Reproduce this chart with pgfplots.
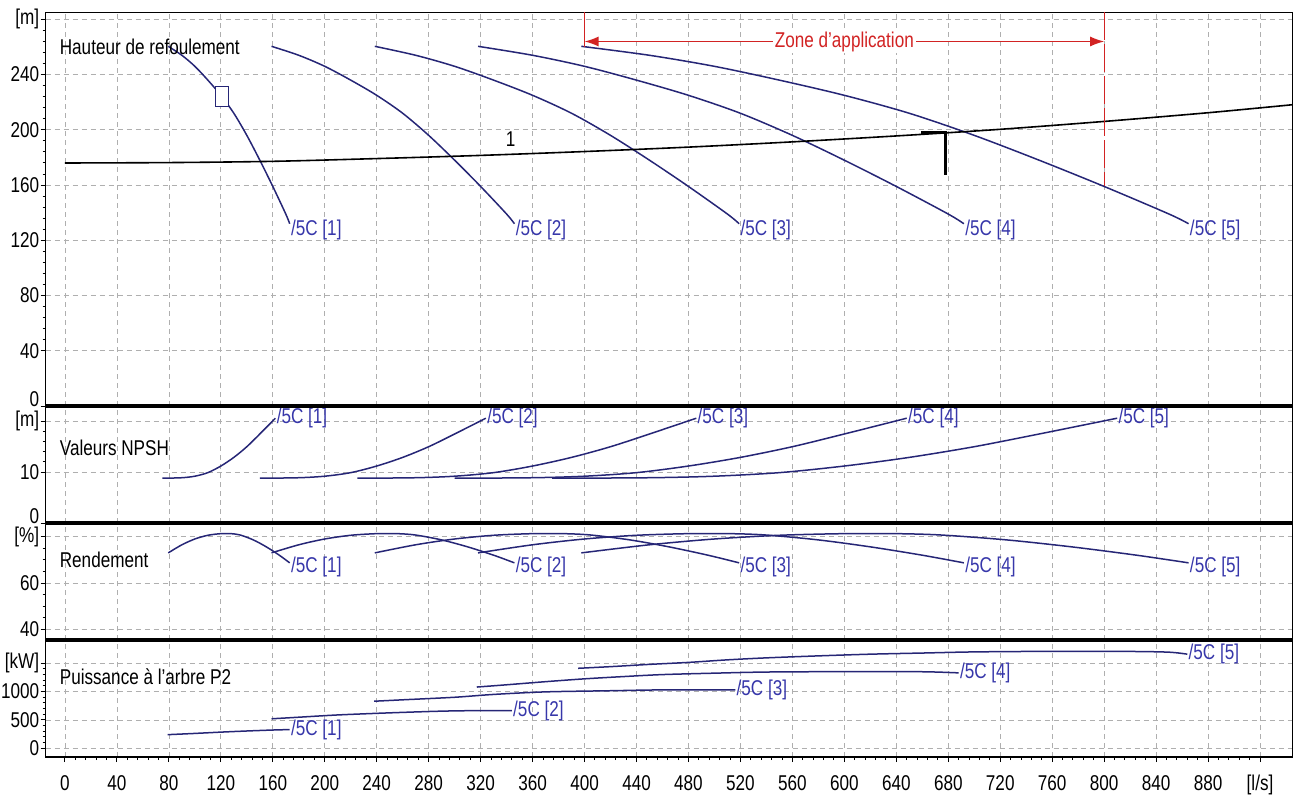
\documentclass[border=0pt]{standalone}
\usepackage{pgfplots}
\pgfplotsset{compat=1.18}
\usepackage{fontspec}
\setmainfont{Liberation Sans}[FakeStretch=0.8]
\usetikzlibrary{arrows.meta}
\definecolor{navy}{RGB}{38,38,118}
\definecolor{lbl}{RGB}{55,55,170}
\definecolor{gridc}{RGB}{175,175,175}
\definecolor{zred}{RGB}{210,35,35}
\tikzset{
  clabel/.style={anchor=west, inner sep=0.5pt, text=lbl},
  ptitle/.style={anchor=west, inner sep=0pt, text=black},
}
\pgfplotsset{
  panel/.style={
    scale only axis, width=623.5pt,
    anchor=south west,
    xmin=-15, xmax=945,
    xtick={0,40,...,920},
    grid=major,
    grid style={gridc, dash pattern=on 2.5pt off 2pt, line width=0.4pt},
    axis line style={black, line width=0.6pt},
    tick align=outside,
    ytick pos=left, xtick pos=bottom,
    major tick length=2.5pt, minor tick length=1.5pt,
    tick style={black, line width=0.5pt},
    yticklabel style={inner sep=0.5pt},
    every axis plot/.append style={line width=0.75pt, navy},
    clip=true,
  },
  toppanel/.style={panel, xticklabels={}, xtick style={draw=none}},
  zerolabel/.style={extra y ticks={0}, extra y tick labels={0},
    extra y tick style={grid=none, yticklabel style={yshift=3.5pt}}},
}
\begin{document}
\begin{tikzpicture}[font=\fontsize{10.7}{12}\selectfont]
\useasboundingbox (-22.75pt,-20.5pt) rectangle (626.75pt,378.5pt);
% ---------------- Panel 1: Hauteur de refoulement
\begin{axis}[toppanel, zerolabel, at={(0pt,175.5pt)}, height=196.75pt,
  ymin=0, ymax=285, ytick={40,80,...,280},
  yticklabels={40,80,120,160,200,240,[m]}, minor y tick num=4]
\addplot[smooth] coordinates {(79.5,260.5)(90,254)(100,246)(110,236)(120,225)(130,212)(140,196)(150,178)(160,159)(170,139)(173,132)};
\addplot[smooth] coordinates {(159,260.5)(180,254)(200,246)(220,236)(240,225)(260,212)(280,196)(300,178)(320,159)(340,139)(346,132)};
\addplot[smooth] coordinates {(238.5,260.5)(270,254)(300,246)(330,236)(360,225)(390,212)(420,196)(450,178)(480,159)(510,139)(519,132)};
\addplot[smooth] coordinates {(318,260.5)(360,254)(400,246)(440,236)(480,225)(520,212)(560,196)(600,178)(640,159)(680,139)(692,132)};
\addplot[smooth] coordinates {(397.5,260.5)(450,254)(500,246)(550,236)(600,225)(650,212)(700,196)(750,178)(800,159)(850,139)(865,132)};
% system curve
\addplot[black, smooth, line width=0.8pt] coordinates {(0,176)(80,176.3)(160,177.2)(240,179.2)(320,181.5)(400,184.3)(480,187.5)(560,191.3)(640,195.6)(720,200.4)(800,206.1)(880,212.4)(945,218.2)};
% operating point marker
\addplot[black, line width=1.5pt] coordinates {(659,197.8)(678,197.8)(678,167.5)};
% square marker
\addplot[navy, only marks, mark=square*, mark size=5pt, mark options={fill=white, xscale=0.65, line width=0.75pt}] coordinates {(121,224)};
% zone d'application
\addplot[zred, line width=0.6pt] coordinates {(400,285)(400,260)};
\addplot[zred, line width=0.6pt, dash pattern=on 14pt off 2pt] coordinates {(800,285)(800,159)};
\draw[zred, line width=0.6pt, {Latex[length=7pt,width=5pt]}-{Latex[length=7pt,width=5pt]}] (axis cs:400,264) -- (axis cs:800,264) node[midway, fill=white, inner sep=1pt, text=zred] {Zone d'application};
\node[black] at (axis cs:343,193) {1};
\node[ptitle] at (rel axis cs:0.0112,0.912) {Hauteur de refoulement};
\node[clabel, yshift=-3pt] at (axis cs:173,132) {/5C [1]};
\node[clabel, yshift=-3pt] at (axis cs:346,132) {/5C [2]};
\node[clabel, yshift=-3pt] at (axis cs:519,132) {/5C [3]};
\node[clabel, yshift=-3pt] at (axis cs:692,132) {/5C [4]};
\node[clabel, yshift=-3pt] at (axis cs:865,132) {/5C [5]};
\end{axis}
% ---------------- Panel 2: NPSH
\begin{axis}[toppanel, zerolabel, at={(0pt,117pt)}, height=58.5pt,
  ymin=0, ymax=23, ytick={10,20}, yticklabels={10,[m]}, minor y tick num=4]
\addplot[smooth] coordinates {(75,8.8)(90,8.9)(100,9.2)(110,9.9)(120,11.2)(130,12.9)(140,15.0)(150,17.5)(162,20.6)};
\addplot[smooth] coordinates {(150,8.8)(180,8.9)(200,9.2)(220,9.9)(240,11.2)(260,12.9)(280,15.0)(300,17.5)(324,20.6)};
\addplot[smooth] coordinates {(225,8.8)(270,8.9)(300,9.2)(330,9.9)(360,11.2)(390,12.9)(420,15.0)(450,17.5)(486,20.6)};
\addplot[smooth] coordinates {(300,8.8)(360,8.9)(400,9.2)(440,9.9)(480,11.2)(520,12.9)(560,15.0)(600,17.5)(648,20.6)};
\addplot[smooth] coordinates {(375,8.8)(450,8.9)(500,9.2)(550,9.9)(600,11.2)(650,12.9)(700,15.0)(750,17.5)(810,20.6)};
\node[ptitle] at (rel axis cs:0.0112,0.641) {Valeurs NPSH};
\node[clabel] at (axis cs:162,20.6) {/5C [1]};
\node[clabel] at (axis cs:324,20.6) {/5C [2]};
\node[clabel] at (axis cs:486,20.6) {/5C [3]};
\node[clabel] at (axis cs:648,20.6) {/5C [4]};
\node[clabel] at (axis cs:810,20.6) {/5C [5]};
\end{axis}
% ---------------- Panel 3: Rendement
\begin{axis}[toppanel, at={(0pt,58.5pt)}, height=58.5pt,
  ymin=35.4, ymax=85.9, ytick={40,60,80}, yticklabels={40,60,[\%]}, minor y tick num=3]
\addplot[smooth] coordinates {(79.5,73)(90,76.5)(100,79)(110,80.6)(120,81.3)(128,81.3)(135,80.7)(145,78.6)(155,75.6)(165,72)(173,68.7)};
\addplot[smooth] coordinates {(159,73)(180,76.5)(200,79)(220,80.6)(240,81.3)(256,81.3)(270,80.7)(290,78.6)(310,75.6)(330,72)(346,68.7)};
\addplot[smooth] coordinates {(238.5,73)(270,76.5)(300,79)(330,80.6)(360,81.3)(384,81.3)(405,80.7)(435,78.6)(465,75.6)(495,72)(519,68.7)};
\addplot[smooth] coordinates {(318,73)(360,76.5)(400,79)(440,80.6)(480,81.3)(512,81.3)(540,80.7)(580,78.6)(620,75.6)(660,72)(692,68.7)};
\addplot[smooth] coordinates {(397.5,73)(450,76.5)(500,79)(550,80.6)(600,81.3)(640,81.3)(675,80.7)(725,78.6)(775,75.6)(825,72)(865,68.7)};
\node[ptitle] at (rel axis cs:0.0112,0.684) {Rendement};
\node[clabel, yshift=-2pt] at (axis cs:173,68.7) {/5C [1]};
\node[clabel, yshift=-2pt] at (axis cs:346,68.7) {/5C [2]};
\node[clabel, yshift=-2pt] at (axis cs:519,68.7) {/5C [3]};
\node[clabel, yshift=-2pt] at (axis cs:692,68.7) {/5C [4]};
\node[clabel, yshift=-2pt] at (axis cs:865,68.7) {/5C [5]};
\end{axis}
% ---------------- Panel 4: Puissance
\begin{axis}[panel, at={(0pt,0pt)}, height=58.5pt,
  ymin=-154, ymax=1910, ytick={0,500,1000,1500}, yticklabels={0,500,1000,[kW]}, minor y tick num=4,
  xticklabels={0,40,80,120,160,200,240,280,320,360,400,440,480,520,560,600,640,680,720,760,800,840,880,[l/s]},
  minor x tick num=4, xticklabel style={yshift=-3pt}]
\addplot[smooth] coordinates {(79,240)(100,262)(120,285)(140,305)(160,322)(173,330)};
\addplot[smooth] coordinates {(159,520)(180,548)(210,588)(250,625)(290,655)(320,665)(344,665)};
\addplot[smooth] coordinates {(238,830)(260,855)(300,900)(330,950)(370,995)(420,1015)(460,1030)(516,1030)};
\addplot[smooth] coordinates {(317,1080)(340,1120)(370,1175)(400,1225)(430,1265)(460,1300)(500,1325)(540,1345)(600,1352)(660,1350)(688,1330)};
\addplot[smooth] coordinates {(395,1411)(420,1440)(450,1480)(480,1515)(510,1560)(540,1595)(580,1630)(620,1660)(660,1680)(700,1700)(760,1710)(820,1708)(850,1695)(864,1660)};
\node[ptitle] at (rel axis cs:0.0112,0.684) {Puissance à l'arbre P2};
\node[clabel] at (axis cs:173,330) {/5C [1]};
\node[clabel] at (axis cs:344,665) {/5C [2]};
\node[clabel] at (axis cs:516,1030) {/5C [3]};
\node[clabel] at (axis cs:688,1330) {/5C [4]};
\node[clabel] at (axis cs:864,1660) {/5C [5]};
\end{axis}
% thick separators
\draw[black, line width=2pt] (0pt,175.5pt) -- (623.5pt,175.5pt);
\draw[black, line width=2pt] (0pt,117pt) -- (623.5pt,117pt);
\draw[black, line width=2pt] (0pt,58.5pt) -- (623.5pt,58.5pt);
\end{tikzpicture}
\end{document}
